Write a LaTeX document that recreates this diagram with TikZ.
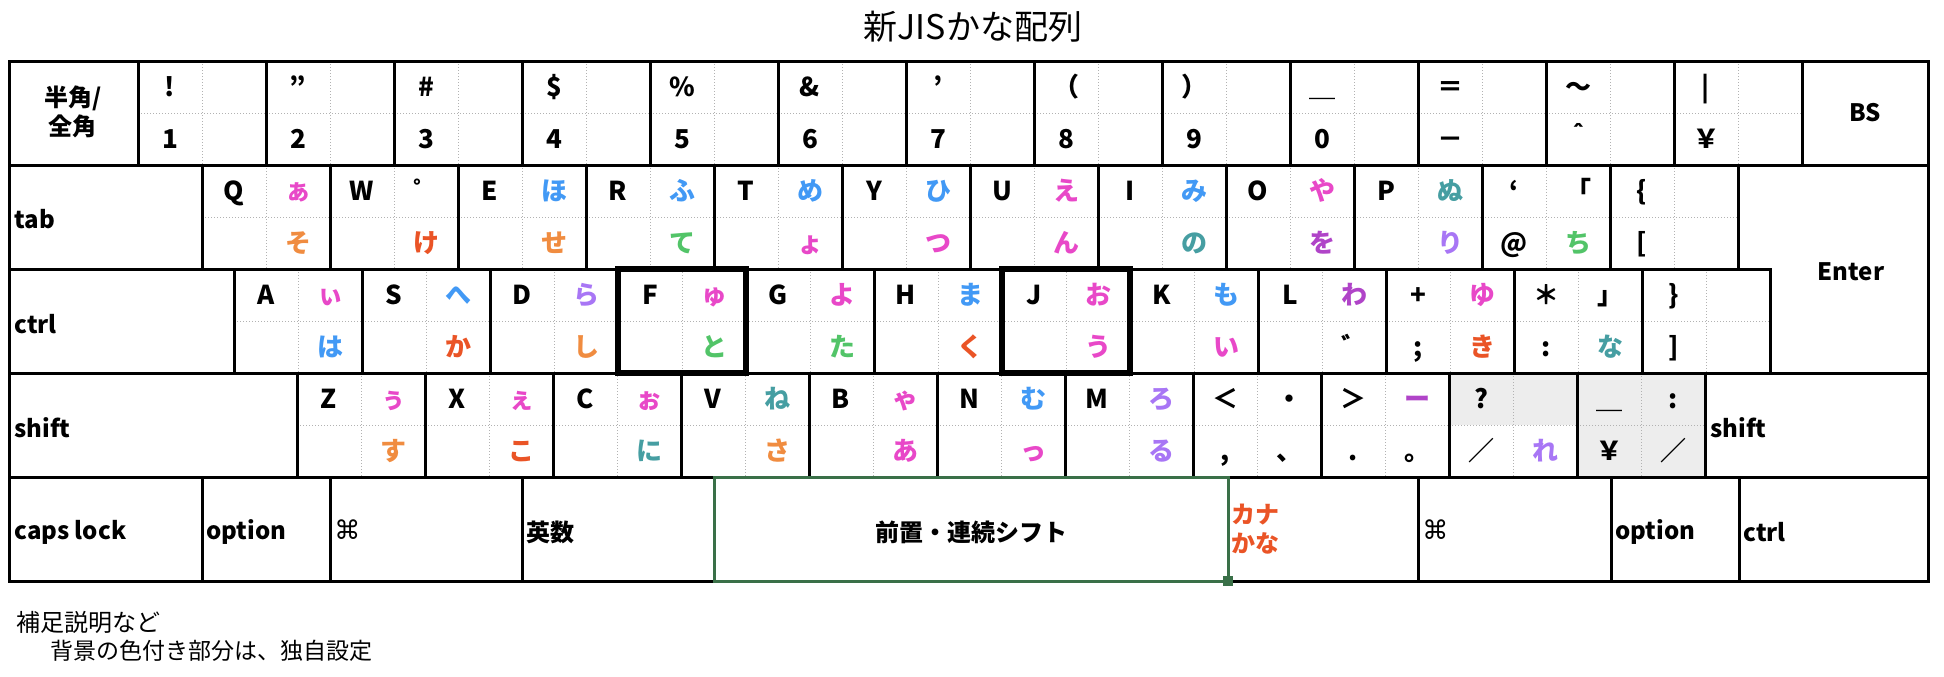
\documentclass[tikz,border=0pt]{standalone}
\usepackage{fontspec}
\usetikzlibrary{backgrounds}
\setmainfont{Noto Sans CJK JP}
\newfontfamily\symfont{DejaVu Sans}

\definecolor{kpink}{RGB}{232,72,200}
\definecolor{kblue}{RGB}{66,153,245}
\definecolor{korange}{RGB}{240,140,64}
\definecolor{kred}{RGB}{234,84,38}
\definecolor{kgreen}{RGB}{82,196,104}
\definecolor{kteal}{RGB}{70,158,162}
\definecolor{kpurple}{RGB}{176,68,200}
\definecolor{kviolet}{RGB}{168,118,245}
\definecolor{selgreen}{RGB}{58,112,72}
\definecolor{cellgray}{RGB}{237,237,237}

\newcommand{\pk}[1]{\textcolor{kpink}{#1}}
\newcommand{\pb}[1]{\textcolor{kblue}{#1}}
\newcommand{\po}[1]{\textcolor{korange}{#1}}
\newcommand{\pr}[1]{\textcolor{kred}{#1}}
\newcommand{\pg}[1]{\textcolor{kgreen}{#1}}
\newcommand{\pt}[1]{\textcolor{kteal}{#1}}
\newcommand{\pu}[1]{\textcolor{kpurple}{#1}}
\newcommand{\pv}[1]{\textcolor{kviolet}{#1}}

% one character key: name, left, top, shift, shift kana, plain, kana
\newcommand{\kbkey}[7]{%
  \begin{scope}[shift={(#2,#3)}]
    \begin{pgfonlayer}{background}
      \draw[keygrid] (64,0) -- (64,104) (0,52) -- (128,52);
    \end{pgfonlayer}
    \draw[keyline] (0,0) rectangle (128,104);
    \node[keych] (#1tl) at (32,26) {#4};
    \node[keych] (#1tr) at (96,26) {#5};
    \node[keych] (#1bl) at (32,78) {#6};
    \node[keych] (#1br) at (96,78) {#7};
  \end{scope}}

\begin{document}
\begin{tikzpicture}[x=0.5pt,y=-0.5pt,
    keyline/.style={line width=1.5pt},
    homekey/.style={line width=2.6pt},
    keygrid/.style={black!30,line width=0.5pt,densely dotted},
    keych/.style={font=\bfseries\fontsize{13}{15}\selectfont,text height=11.3pt,text depth=1.7pt,inner sep=0pt},
    keylabel/.style={font=\bfseries\fontsize{12}{14.5}\selectfont,inner sep=0pt,anchor=west,align=left},
    spacesel/.style={selgreen,line width=1.5pt}]
    \useasboundingbox (0,0) rectangle (1944,676);

    % Title
    \node[font=\fontsize{17}{20}\selectfont] (title) at (973,27) {新JISかな配列};

    % Shaded cells
    \begin{pgfonlayer}{background}
        \fill[cellgray] (1449,373) rectangle (1577,425);
        \fill[cellgray] (1577,373) rectangle (1705,477);
    \end{pgfonlayer}

    % Number row
    \draw[keyline] (9,61) rectangle (138,165);
    \node[keylabel,anchor=center,align=center] (zenkaku) at (73,112) {半角/\\全角};
    \foreach \up/\lo [count=\i from 0] in {!/1, ”/2, \#/3, \$/4, \%/5, \&/6, ’/7, （/8, ）/9, ＿/0, ＝/－, ～/＾, |/￥}
        \kbkey{ra\i}{138+128*\i}{61}{\up}{}{\lo}{};
    \draw[keyline] (1802,61) rectangle (1928,165);
    \node[keylabel,anchor=center] (bs) at (1865,113) {BS};

    % Top letter row
    \draw[keyline] (9,165) rectangle (202,269);
    \node[keylabel] (tab) at (14,219) {tab};
    \foreach \up/\kup/\lo/\klo [count=\i from 0] in {Q/\pk{ぁ}//\po{そ}, W/゜//\pr{け}, E/\pb{ほ}//\po{せ}, R/\pb{ふ}//\pg{て}, T/\pb{め}//\pk{ょ}, Y/\pb{ひ}//\pk{つ}, U/\pk{え}//\pk{ん}, I/\pb{み}//\pt{の}, O/\pk{や}//\pu{を}, P/\pt{ぬ}//\pv{り}, ‘/「/@/\pg{ち}, \{//[/}
        \kbkey{rb\i}{202+128*\i}{165}{\up}{\kup}{\lo}{\klo};
    \draw[keyline] (1738,165) -- (1928,165) -- (1928,373) -- (1770,373) -- (1770,269) -- (1738,269) -- cycle;
    \node[keylabel,anchor=center] (enter) at (1851,272) {Enter};

    % Home row
    \draw[keyline] (9,269) rectangle (234,373);
    \node[keylabel] (ctrlleft) at (14,324) {ctrl};
    \foreach \up/\kup/\lo/\klo [count=\i from 0] in {A/\pk{ぃ}//\pb{は}, S/\pb{へ}//\pr{か}, D/\pv{ら}//\po{し}, F/\pk{ゅ}//\pg{と}, G/\pk{よ}//\pg{た}, H/\pb{ま}//\pr{く}, J/\pk{お}//\pk{う}, K/\pb{も}//\pk{い}, L/\pu{わ}//゛, +/\pk{ゆ}/;/\pr{き}, ＊/」/:/\pt{な}, \}//]/}
        \kbkey{rc\i}{234+128*\i}{269}{\up}{\kup}{\lo}{\klo};
    \draw[homekey] (618,269) rectangle ++(128,104);
    \draw[homekey] (1002,269) rectangle ++(128,104);

    % Bottom letter row
    \draw[keyline] (9,373) rectangle (297,477);
    \node[keylabel] (shiftleft) at (14,428) {shift};
    \foreach \up/\kup/\lo/\klo [count=\i from 0] in {Z/\pk{ぅ}//\po{す}, X/\pk{ぇ}//\pr{こ}, C/\pk{ぉ}//\pt{に}, V/\pt{ね}//\po{さ}, B/\pk{ゃ}//\pk{あ}, N/\pb{む}//\pk{っ}, M/\pv{ろ}//\pv{る}, ＜/・/{,}/、, ＞/\pu{ー}/./。, ?//／/\pv{れ}, ＿/:/￥/／}
        \kbkey{rd\i}{297+128*\i}{373}{\up}{\kup}{\lo}{\klo};
    \draw[keyline] (1705,373) rectangle (1928,477);
    \node[keylabel] (shiftright) at (1710,428) {shift};

    % Space row
    \foreach \xa/\xb in {9/202, 202/330, 330/522, 522/714, 714/1228, 1228/1418, 1418/1611, 1611/1739, 1739/1928}
        \draw[keyline] (\xa,477) rectangle (\xb,581);
    \node[keylabel] (caps) at (14,532) {caps lock};
    \node[keylabel] (optleft) at (206,532) {option};
    \node[keylabel,font=\symfont\fontsize{13}{15}\selectfont] (cmdleft) at (334,530) {⌘};
    \node[keylabel] (eisu) at (526,532) {英数};
    \node[keylabel,anchor=center] (space) at (971,532) {前置・連続シフト};
    \node[keylabel,text=kred] (kana) at (1231,529) {カナ\\かな};
    \node[keylabel,font=\symfont\fontsize{13}{15}\selectfont] (cmdright) at (1422,530) {⌘};
    \node[keylabel] (optright) at (1615,532) {option};
    \node[keylabel] (ctrlright) at (1743,532) {ctrl};
    \draw[spacesel] (714,477) rectangle (1228,581);
    \fill[selgreen] (1223,576) rectangle (1233,586);

    % Notes
    \node[anchor=west,inner sep=0pt,font=\fontsize{12}{14}\selectfont] (note) at (16,622) {補足説明など};
    \node[anchor=west,inner sep=0pt,font=\fontsize{11.5}{14}\selectfont] (notebody) at (50,651) {背景の色付き部分は、独自設定};
\end{tikzpicture}
\end{document}
